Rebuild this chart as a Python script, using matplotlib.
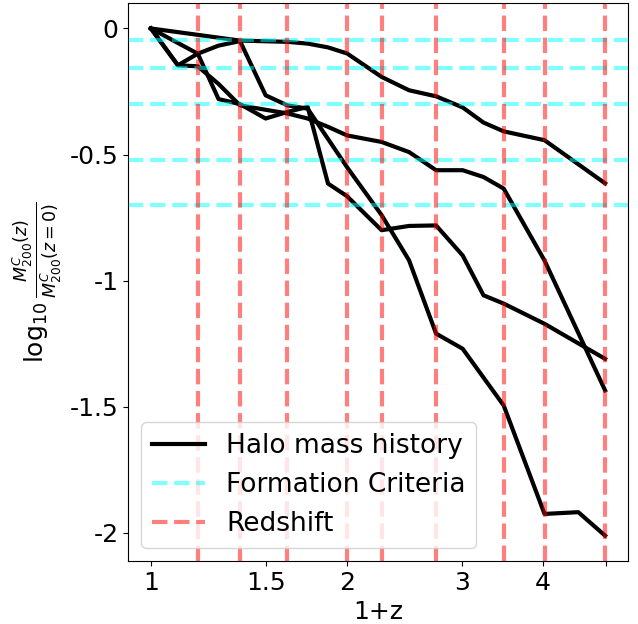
import numpy as np
import matplotlib
matplotlib.use("Agg")
import matplotlib.pyplot as plt

plt.rcParams['axes.unicode_minus'] = False
plt.rcParams['font.size'] = 18

# snapshot redshifts marked on the plot (as 1+z)
redshift_1pz = [1.18, 1.37, 1.62, 2.0, 2.26, 2.74, 3.48, 4.02, 4.98]

# formation criteria, fraction of the z=0 mass
form_frac = [0.9, 0.7, 0.5, 0.3, 0.2]

# halo mass histories: 1+z and log10(M(z)/M(z=0))
halo1_x = [1.0, 1.37, 1.62, 1.74, 1.87, 2.0, 2.26, 2.49, 2.74, 3.01, 3.24, 3.48, 4.02, 4.98]
halo1_y = [0.0, -0.048, -0.053, -0.06, -0.075, -0.099, -0.192, -0.245, -0.269, -0.313, -0.373, -0.408, -0.443, -0.614]

halo2_x = [1.0, 1.1, 1.18, 1.27, 1.37, 1.5, 1.62, 1.74, 2.0, 2.26, 2.49, 2.74, 3.01, 3.48, 4.02, 4.53, 4.98]
halo2_y = [0.0, -0.146, -0.10, -0.068, -0.05, -0.265, -0.305, -0.318, -0.55, -0.74, -0.919, -1.21, -1.27, -1.495, -1.925, -1.918, -2.011]

halo3_x = [1.0, 1.18, 1.27, 1.37, 1.5, 1.62, 1.74, 1.87, 2.0, 2.26, 2.49, 2.74, 3.01, 3.24, 3.48, 4.02, 4.98]
halo3_y = [0.0, -0.10, -0.28, -0.30, -0.357, -0.331, -0.311, -0.615, -0.665, -0.80, -0.783, -0.781, -0.90, -1.058, -1.091, -1.171, -1.31]

halo4_x = [1.0, 1.1, 1.18, 1.27, 1.37, 1.62, 1.74, 1.87, 2.0, 2.26, 2.49, 2.74, 3.01, 3.24, 3.48, 4.02, 4.98]
halo4_y = [0.0, -0.146, -0.15, -0.22, -0.305, -0.337, -0.357, -0.39, -0.424, -0.45, -0.49, -0.562, -0.562, -0.589, -0.635, -0.92, -1.435]

xticks = [1, 1.5, 2, 3, 4, 5]
xticklabels = ['1', '1.5', '2', '3', '4', '']
yticks = [0, -0.5, -1, -1.5, -2]
yticklabels = ['0', '-0.5', '-1', '-1.5', '-2']

fig = plt.figure(figsize=(6.38, 6.24), dpi=100)
ax = fig.add_axes([0.201, 0.101, 0.783, 0.894])

histories = [(halo1_x, halo1_y), (halo2_x, halo2_y), (halo3_x, halo3_y), (halo4_x, halo4_y)]
for i, (hx, hy) in enumerate(histories):
    ax.plot(hx, hy, 'k-', lw=3, label='Halo mass history' if i == 0 else None)

for i, f in enumerate(form_frac):
    ax.axhline(np.log10(f), color='cyan', ls='--', lw=3, alpha=0.5,
               label='Formation Criteria' if i == 0 else None)

for i, r in enumerate(redshift_1pz):
    ax.axvline(r, color='red', ls='--', lw=3, alpha=0.5,
               label='Redshift' if i == 0 else None)

ax.set_xscale('log')
ax.set_xticks(xticks)
ax.set_xticklabels(xticklabels)
ax.xaxis.set_minor_locator(matplotlib.ticker.NullLocator())
ax.set_yticks(yticks)
ax.set_yticklabels(yticklabels)

ax.set_xlabel('1+z')
ax.set_ylabel(r'$\log_{10}\frac{M^{C}_{200}(z)}{M^{C}_{200}(z=0)}$')
ax.legend(loc='lower left', fontsize=19)

fig.savefig('out.png', dpi=100)
